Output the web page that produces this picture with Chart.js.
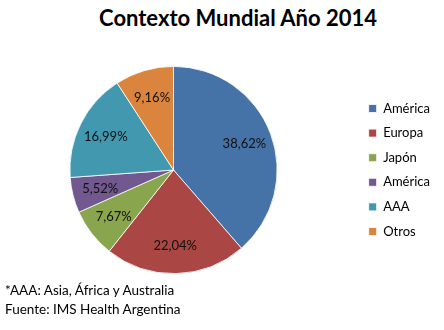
<!DOCTYPE html>
<html>
<head>
<meta charset="utf-8">
<script src="https://cdn.jsdelivr.net/npm/chart.js@4"></script>
<style>
  html, body { margin: 0; padding: 0; background: #fff; overflow: hidden; }
  body { position: relative; width: 444px; height: 330px; font-family: Lato, "Open Sans", sans-serif; color: #000; }
  #titulo { position: absolute; left: 0; width: 476px; top: 4px; text-align: center; font-size: 22px; font-weight: bold; }
  #wrap { position: absolute; left: -10px; top: 0; width: 455px; height: 330px; }
  #notas { position: absolute; left: 5px; top: 281px; font-size: 13.5px; line-height: 18.5px; }
</style>
</head>
<body>
<div id="titulo"></div>
<div id="wrap"><canvas id="pieChart"></canvas></div>
<div id="notas"></div>
<script>
// datos del gráfico
const regiones = ['América', 'Europa', 'Japón', 'América', 'AAA', 'Otros'];
const porcentajes = [38.62, 22.04, 7.67, 5.52, 16.99, 9.16];
const colores = ['#4572a7', '#aa4643', '#89a54e', '#71588f', '#4198af', '#db843d'];
const titulo = 'Contexto Mundial Año 2014';
const notas = ['*AAA: Asia, África y Australia', 'Fuente: IMS Health Argentina'];

document.getElementById('titulo').textContent = titulo;
document.getElementById('notas').innerHTML = notas.join('<br>');

const fuente = 'Lato, "Open Sans", sans-serif';
Chart.defaults.font.family = fuente;
Chart.defaults.color = '#000';

// etiquetas dentro de cada porción
const etiquetas = {
  id: 'etiquetas',
  afterDatasetsDraw(chart) {
    const ctx = chart.ctx;
    const meta = chart.getDatasetMeta(0);
    ctx.save();
    ctx.font = '13px ' + fuente;
    ctx.fillStyle = '#111';
    ctx.textAlign = 'center';
    ctx.textBaseline = 'middle';
    meta.data.forEach((arc, i) => {
      const p = arc.getProps(['x', 'y', 'startAngle', 'endAngle', 'outerRadius'], true);
      const a = (p.startAngle + p.endAngle) / 2;
      const r = p.outerRadius * 0.73;
      const txt = porcentajes[i].toFixed(2).replace('.', ',') + '%';
      ctx.fillText(txt, p.x + Math.cos(a) * r, p.y + Math.sin(a) * r);
    });
    ctx.restore();
  }
};

new Chart(document.getElementById('pieChart'), {
  type: 'pie',
  data: {
    labels: regiones,
    datasets: [{
      data: porcentajes,
      backgroundColor: colores,
      borderColor: '#ffffff',
      borderWidth: 0.8
    }]
  },
  options: {
    responsive: true,
    maintainAspectRatio: false,
    animation: false,
    layout: { padding: { left: 0, right: 5, top: 66, bottom: 56 } },
    plugins: {
      legend: {
        position: 'right',
        labels: { boxWidth: 8, boxHeight: 8, padding: 11.6, font: { size: 13 } }
      },
      tooltip: { enabled: false }
    }
  },
  plugins: [etiquetas]
});
</script>
</body>
</html>
